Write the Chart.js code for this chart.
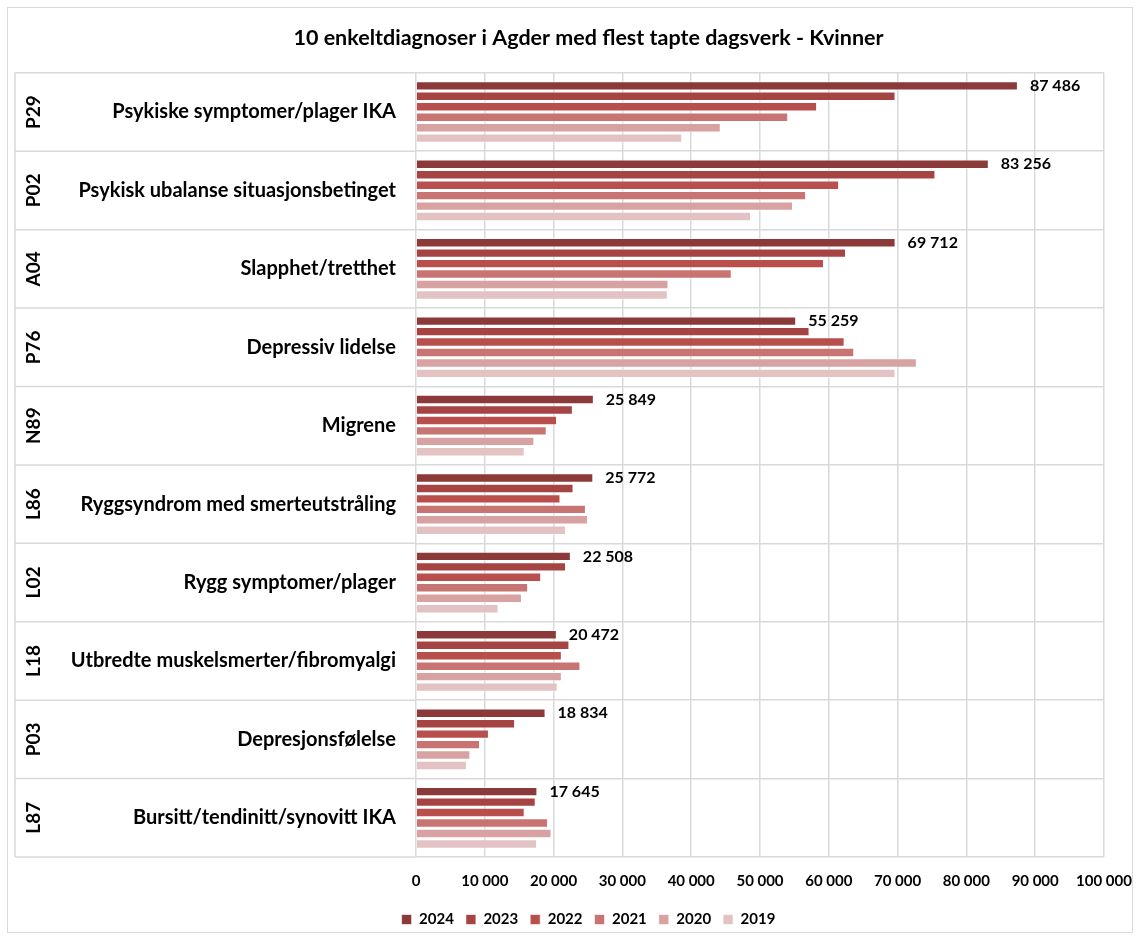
<!DOCTYPE html>
<html>
<head>
<meta charset="utf-8">
<script src="https://cdn.jsdelivr.net/npm/chart.js@4/dist/chart.umd.min.js"></script>
<style>
  html, body { margin: 0; padding: 0; background: #fff; }
  #wrap { width: 1140px; height: 940px; position: relative; }
</style>
</head>
<body>
<div id="wrap"><canvas id="diagChart" width="1140" height="940"></canvas></div>
<script>
// kategorier (diagnosekode + navn)
var codes = ['P29', 'P02', 'A04', 'P76', 'N89', 'L86', 'L02', 'L18', 'P03', 'L87'];
var names = [
    'Psykiske symptomer/plager IKA',
    'Psykisk ubalanse situasjonsbetinget',
    'Slapphet/tretthet',
    'Depressiv lidelse',
    'Migrene',
    'Ryggsyndrom med smerteutstråling',
    'Rygg symptomer/plager',
    'Utbredte muskelsmerter/fibromyalgi',
    'Depresjonsfølelse',
    'Bursitt/tendinitt/synovitt IKA'
];
var years = ['2024', '2023', '2022', '2021', '2020', '2019'];

// tapte dagsverk per år
var v2024 = [87486, 83256, 69712, 55259, 25849, 25772, 22508, 20472, 18834, 17645];
var v2023 = [69700, 75500, 62500, 57200, 22800, 22900, 21800, 22300, 14400, 17400];
var v2022 = [58300, 61500, 59300, 62300, 20500, 21000, 18200, 21200, 10600, 15800];
var v2021 = [54100, 56700, 45900, 63700, 19000, 24700, 16300, 23900, 9300, 19200];
var v2020 = [44300, 54800, 36700, 72800, 17200, 25000, 15400, 21200, 7900, 19700];
var v2019 = [38700, 48700, 36600, 69700, 15800, 21800, 12000, 20600, 7400, 17600];

var xTicks = [0, 10000, 20000, 30000, 40000, 50000, 60000, 70000, 80000, 90000, 100000];

var colors = ['#8c3939', '#a54442', '#b84f4c', '#c87472', '#d8a2a2', '#e3c2c4'];
var series = [v2024, v2023, v2022, v2021, v2020, v2019];

var fontFam = 'Lato, "Open Sans", sans-serif';

function fmt(n) {
    return String(n).replace(/\B(?=(\d{3})+(?!\d))/g, ' ');
}

var datasets = years.map(function (y, i) {
    return {
        label: y,
        data: series[i],
        backgroundColor: colors[i],
        borderColor: 'rgba(255,255,255,0.6)',
        borderWidth: 1,
        categoryPercentage: 0.8,
        barPercentage: 0.9
    };
});

// tegner ramme, koder, skillelinjer og dataetiketter
var extras = {
    id: 'extras',
    beforeDraw: function (chart) {
        var c = chart.ctx;
        c.save();
        c.fillStyle = '#fff';
        c.fillRect(0, 0, chart.width, chart.height);
        c.strokeStyle = '#d9d9d9';
        c.lineWidth = 1;
        c.strokeRect(7.5, 7.5, 1125, 925);
        c.restore();
    },
    afterDraw: function (chart) {
        var c = chart.ctx;
        var yS = chart.scales.y;
        var area = chart.chartArea;
        var half = (yS.getPixelForValue(1) - yS.getPixelForValue(0)) / 2;
        c.save();
        c.strokeStyle = '#d9d9d9';
        c.lineWidth = 1.5;
        c.beginPath();
        for (var i = 0; i <= codes.length; i++) {
            var yy = (i < codes.length ? yS.getPixelForValue(i) - half : yS.getPixelForValue(i - 1) + half);
            c.moveTo(15, yy);
            c.lineTo(area.left, yy);
        }
        c.moveTo(15, area.top);
        c.lineTo(15, area.bottom);
        c.stroke();

        c.fillStyle = '#000';
        c.font = 'bold 19px ' + fontFam;
        c.textAlign = 'center';
        c.textBaseline = 'middle';
        codes.forEach(function (code, i) {
            var yc = yS.getPixelForValue(i);
            c.save();
            c.translate(34, yc);
            c.rotate(-Math.PI / 2);
            c.fillText(code, 0, 0);
            c.restore();
        });

        c.font = 'bold 16px ' + fontFam;
        c.textAlign = 'left';
        var meta = chart.getDatasetMeta(0);
        meta.data.forEach(function (bar, i) {
            c.fillText(fmt(v2024[i]), bar.x + 12, bar.y);
        });
        c.restore();
    }
};

var ctx = document.getElementById('diagChart').getContext('2d');
var chart = new Chart(ctx, {
    type: 'bar',
    data: { labels: names, datasets: datasets },
    plugins: [extras],
    options: {
        indexAxis: 'y',
        responsive: false,
        animation: false,
        layout: { padding: { left: 45, right: 8, top: 4, bottom: 3 } },
        plugins: {
            title: {
                display: true,
                text: '10 enkeltdiagnoser i Agder med flest tapte dagsverk - Kvinner',
                color: '#000',
                font: { family: fontFam, size: 21.5, weight: 'bold' },
                padding: { top: 21, bottom: 22 }
            },
            legend: {
                position: 'bottom',
                labels: {
                    color: '#000',
                    boxWidth: 10,
                    boxHeight: 10,
                    padding: 12,
                    font: { family: fontFam, size: 15, weight: 'bold' }
                }
            },
            tooltip: { enabled: false }
        },
        scales: {
            x: {
                min: 0,
                max: 100000,
                afterBuildTicks: function (axis) {
                    axis.ticks = xTicks.map(function (v) { return { value: v }; });
                },
                afterFit: function (scale) {
                    scale.height = 43;
                    scale.paddingRight = 36;
                },
                ticks: {
                    color: '#000',
                    padding: 15,
                    maxRotation: 0,
                    font: { family: fontFam, size: 15, weight: 'bold' },
                    callback: function (v) { return fmt(v); }
                },
                grid: { color: '#d9d9d9', lineWidth: 1.5, drawTicks: false },
                border: { display: false }
            },
            y: {
                afterFit: function (scale) { scale.width = 371; },
                ticks: {
                    color: '#000',
                    padding: 20,
                    font: { family: fontFam, size: 20, weight: 'bold' }
                },
                grid: { offset: true, color: '#d9d9d9', lineWidth: 1.5, drawTicks: false },
                border: { display: false }
            }
        }
    }
});
</script>
</body>
</html>
